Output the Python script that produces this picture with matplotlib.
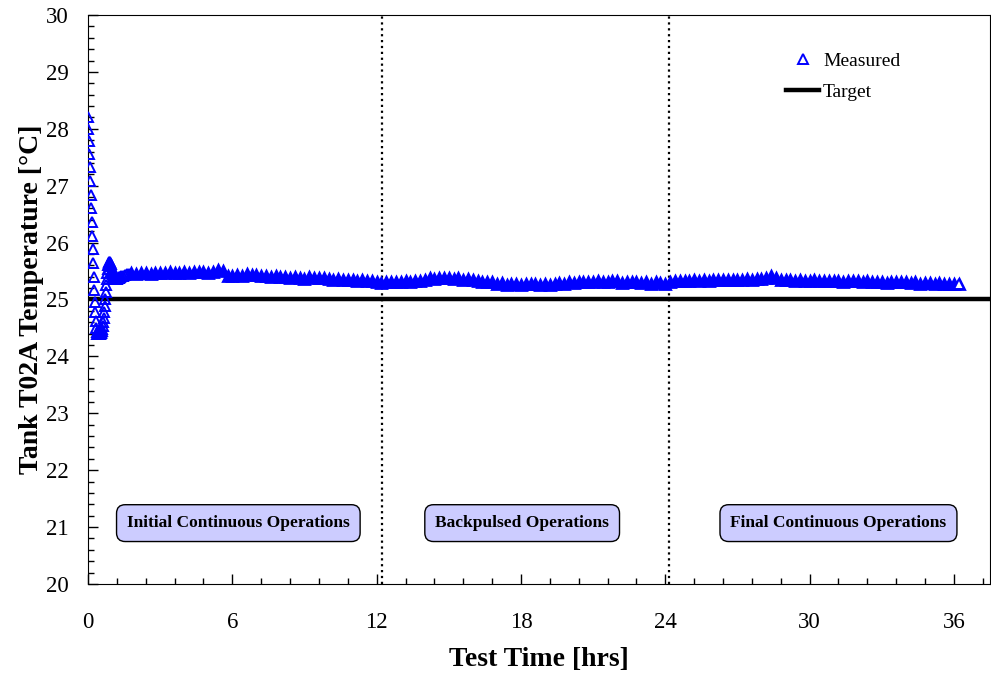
import numpy as np
import matplotlib
matplotlib.use('Agg')
import matplotlib.pyplot as plt
from matplotlib.ticker import MultipleLocator

# start-up transient, sampled every 0.02 hr
early_t = np.arange(0.0, 1.33, 0.02)
early_v = [28.20, 28.00, 27.78, 27.55, 27.32, 27.08, 26.84, 26.60, 26.36, 26.12,
           25.88, 25.64, 25.40, 25.17, 24.96, 24.78, 24.62, 24.50, 24.43, 24.40,
           24.39, 24.39, 24.39, 24.39, 24.40, 24.40, 24.41, 24.42, 24.43, 24.45,
           24.48, 24.53, 24.60, 24.68, 24.78, 24.89, 25.01, 25.13, 25.25, 25.36,
           25.46, 25.54, 25.60, 25.64, 25.66, 25.66, 25.65, 25.62, 25.58, 25.54,
           25.50, 25.47, 25.44, 25.41, 25.39, 25.38, 25.37, 25.36, 25.36, 25.36,
           25.36, 25.37, 25.37, 25.38, 25.38, 25.39, 25.40]
mid_t = [1.38, 1.46, 1.54, 1.62, 1.70]
mid_v = [25.41, 25.42, 25.43, 25.44, 25.45]

# rest of the run, every 0.2 hr (5 readings per hour)
late_t = np.arange(1.8, 36.21, 0.2)
late_v = [25.46,
          25.45, 25.47, 25.46, 25.45, 25.46,
          25.47, 25.46, 25.48, 25.47, 25.47,
          25.48, 25.47, 25.49, 25.48, 25.48,
          25.47, 25.49, 25.52, 25.50, 25.42,
          25.41, 25.43, 25.42, 25.44, 25.43,
          25.43, 25.41, 25.42, 25.40, 25.41,
          25.39, 25.40, 25.38, 25.39, 25.38,
          25.36, 25.39, 25.38, 25.37, 25.37,
          25.36, 25.35, 25.36, 25.34, 25.35,
          25.35, 25.33, 25.34, 25.32, 25.33,
          25.31, 25.29, 25.31, 25.30, 25.30,
          25.31, 25.32, 25.30, 25.33, 25.32,
          25.34, 25.37, 25.36, 25.38, 25.37,
          25.37, 25.36, 25.37, 25.35, 25.36,
          25.34, 25.32, 25.30, 25.31, 25.30,
          25.28, 25.29, 25.26, 25.27, 25.27,
          25.26, 25.28, 25.27, 25.27, 25.26,
          25.28, 25.26, 25.27, 25.29, 25.28,
          25.30, 25.29, 25.31, 25.30, 25.31,
          25.31, 25.33, 25.31, 25.30, 25.32,
          25.32, 25.29, 25.31, 25.30, 25.31,
          25.29, 25.31, 25.28, 25.30, 25.29,
          25.27, 25.30, 25.32, 25.33, 25.32,
          25.32, 25.34, 25.33, 25.34, 25.33,
          25.34, 25.35, 25.34, 25.35, 25.35,
          25.35, 25.34, 25.36, 25.35, 25.36,
          25.36, 25.38, 25.41, 25.37, 25.35,
          25.34, 25.35, 25.33, 25.34, 25.33,
          25.33, 25.34, 25.32, 25.33, 25.33,
          25.32, 25.33, 25.31, 25.32, 25.32,
          25.32, 25.31, 25.32, 25.30, 25.31,
          25.31, 25.29, 25.30, 25.31, 25.30,
          25.30, 25.29, 25.30, 25.28, 25.29,
          25.29, 25.28, 25.29, 25.28, 25.28,
          25.27, 25.28]

target_t = [0, 37.5]
target_v = [25.0, 25.0]

phase_breaks = [12.23, 24.17]
phase_labels = ['Initial Continuous Operations', 'Backpulsed Operations',
                'Final Continuous Operations']
phase_label_x = [6.25, 18.05, 31.2]

plt.rcParams['font.family'] = ['Liberation Serif', 'DejaVu Serif']

fig = plt.figure(figsize=(9.91, 6.73), dpi=100)
ax = fig.add_axes([88/991, 89/673, 902/991, 569/673])

# transient points are spread out, the long run overlaps into a solid band
ax.plot(np.concatenate([early_t, mid_t]), np.concatenate([early_v, mid_v]),
        linestyle='none', marker='^', ms=7.5, mfc='none', mec='#0000FF',
        mew=1.4, label='Measured', zorder=3)
ax.plot(late_t, late_v, linestyle='none', marker='^', ms=7.2, mfc='#0000FF',
        mec='#0000FF', mew=2.0, zorder=3)
# last reading shows as an open triangle at the end of the band
ax.plot(late_t[-1:], late_v[-1:], linestyle='none', marker='^', ms=7.5,
        mfc='white', mec='#0000FF', mew=1.4, zorder=4)
ax.plot(target_t, target_v, color='black', lw=3.2, label='Target', zorder=2)

for xb in phase_breaks:
    ax.axvline(xb, color='black', ls=':', lw=1.6, zorder=1)

for xl, txt in zip(phase_label_x, phase_labels):
    ax.text(xl, 21.07, txt, ha='center', va='center', fontsize=12.5,
            fontweight='bold',
            bbox=dict(boxstyle='round,pad=0.6,rounding_size=0.5',
                      fc='#CCCCFF', ec='black', lw=1))

ax.set_xlim(0, 37.5)
ax.set_ylim(20, 30)
ax.xaxis.set_major_locator(MultipleLocator(6))
ax.xaxis.set_minor_locator(MultipleLocator(1.2))
ax.yaxis.set_major_locator(MultipleLocator(1))
ax.yaxis.set_minor_locator(MultipleLocator(0.2))
ax.tick_params(which='both', direction='in', labelsize=16.5)
ax.tick_params(which='major', length=7, width=1)
ax.tick_params(which='minor', length=4, width=1)
ax.tick_params(axis='x', pad=20)
ax.tick_params(axis='y', pad=14)

ax.set_xlabel('Test Time [hrs]', fontsize=20, fontweight='bold', labelpad=10)
ax.set_ylabel('Tank T02A Temperature [°C]', fontsize=20, fontweight='bold',
              labelpad=1)

ax.legend(loc='upper right', bbox_to_anchor=(0.92, 0.965), frameon=False,
          fontsize=14, handlelength=1.7, handletextpad=0.2, labelspacing=0.7)

fig.savefig('out.png', dpi=100)
